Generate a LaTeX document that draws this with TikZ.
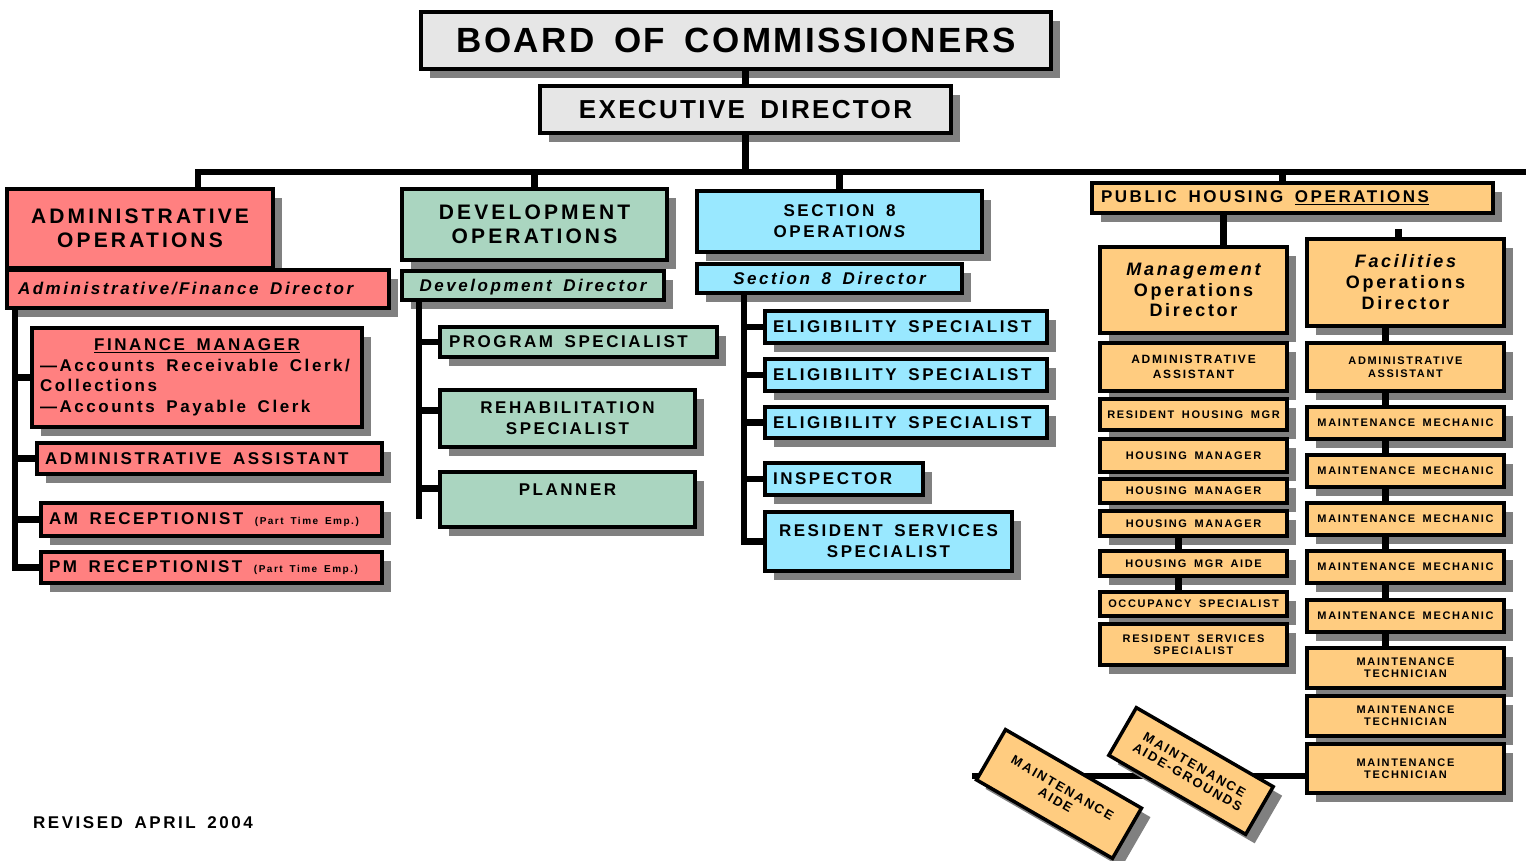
\documentclass[tikz,border=0pt]{standalone}
\usepackage{fontspec}
\newfontfamily\orgfont{Liberation Sans}[LetterSpace=15, WordSpace=1.6]
\usetikzlibrary{positioning, shadows}
\definecolor{boardgray}{HTML}{E6E6E6}
\definecolor{adminred}{HTML}{FF8080}
\definecolor{devgreen}{HTML}{AAD5C0}
\definecolor{seccyan}{HTML}{99E8FF}
\definecolor{phorange}{HTML}{FFCC80}
\definecolor{shadowgray}{HTML}{808080}
\tikzset{
    fs/.style 2 args={font=\orgfont\bfseries\fontsize{#1}{#2}\selectfont},
    block/.style={rectangle, draw, line width=3.5pt, inner sep=0pt, outer sep=0pt, anchor=north west, align=center,
        drop shadow={shadow xshift=9pt, shadow yshift=-9pt, fill=shadowgray, opacity=1}},
    topblock/.style={block, fill=boardgray},
    adminblock/.style={block, fill=adminred, fs={17}{20.5}},
    devblock/.style={block, fill=devgreen, fs={17}{21}},
    secblock/.style={block, fill=seccyan, fs={17}{21}},
    phblock/.style={block, fill=phorange, fs={11}{13}},
    leftblock/.style={align=flush left, text width=#1, inner xsep=8pt},
    line/.style={draw, line width=6.5pt},
}

\begin{document}
\begin{tikzpicture}[x=1pt, y=-1pt]

    \useasboundingbox (0,0) rectangle (1526,861);

    % Board and director
    \node[topblock, minimum width=630pt, minimum height=57pt, fs={35}{40}] (board) at (421,12) {\addfontfeature{LetterSpace=7}BOARD OF COMMISSIONERS};
    \node[topblock, minimum width=411pt, minimum height=47pt, fs={26}{30}] (exec) at (540,86) {\addfontfeature{LetterSpace=9}EXECUTIVE DIRECTOR};

    % Administrative operations
    \node[adminblock, minimum width=266pt, minimum height=79pt, fs={21}{24}] (adminops) at (7,189) {ADMINISTRATIVE\\OPERATIONS};
    \node[adminblock, leftblock=360pt, inner xsep=11pt, minimum height=38pt] (admindir) at (7,270) {\itshape Administrative/Finance Director};
    \node[adminblock, leftblock=314pt, minimum height=99pt] (finmgr) at (32,328) {\makebox[\linewidth]{\underline{FINANCE MANAGER}}\\—Accounts Receivable Clerk/\\Collections\\—Accounts Payable Clerk};
    \node[adminblock, leftblock=329pt, minimum height=31pt] (adminasst) at (37,443) {ADMINISTRATIVE ASSISTANT};
    \node[adminblock, leftblock=325pt, minimum height=33pt] (amrec) at (41,503) {AM RECEPTIONIST {\fontsize{10}{12}\selectfont(Part Time Emp.)}};
    \node[adminblock, leftblock=325pt, minimum height=31pt] (pmrec) at (41,552) {PM RECEPTIONIST {\fontsize{10}{12}\selectfont(Part Time Emp.)}};

    % Development operations
    \node[devblock, minimum width=265pt, minimum height=71pt, fs={21}{24}] (devops) at (402,189) {DEVELOPMENT\\OPERATIONS};
    \node[devblock, minimum width=262pt, minimum height=29pt, text height=14pt, text depth=3pt] (devdir) at (402,271) {\itshape Development Director};
    \node[devblock, leftblock=259pt, inner xsep=9pt, minimum height=30pt] (progspec) at (440,327) {PROGRAM SPECIALIST};
    \node[devblock, minimum width=255pt, minimum height=57pt] (rehab) at (440,390) {REHABILITATION\\SPECIALIST};
    \node[devblock, minimum width=255pt, text height=15pt, text depth=24pt, inner ysep=8pt] (planner) at (440,472) {PLANNER};

    % Section 8 operations
    \node[secblock, minimum width=285pt, minimum height=61pt] (secops) at (697,191) {SECTION 8\\OPERATIO{\itshape NS}};
    \node[secblock, minimum width=265pt, minimum height=29pt] (secdir) at (697,264) {\itshape Section 8 Director};
    \node[secblock, leftblock=266pt, minimum height=32pt] (elig1) at (765,311) {ELIGIBILITY SPECIALIST};
    \node[secblock, leftblock=266pt, minimum height=32pt] (elig2) at (765,359) {ELIGIBILITY SPECIALIST};
    \node[secblock, leftblock=266pt, minimum height=31pt] (elig3) at (765,407) {ELIGIBILITY SPECIALIST};
    \node[secblock, leftblock=142pt, minimum height=32pt] (inspector) at (765,463) {INSPECTOR};
    \node[secblock, minimum width=247pt, minimum height=59pt] (secres) at (765,512) {RESIDENT SERVICES\\SPECIALIST};

    % Public housing operations
    \node[phblock, leftblock=383pt, inner xsep=9pt, minimum height=30pt, fs={17}{20}] (phops) at (1092,183) {PUBLIC HOUSING \underline{OPERATIONS}};
    \node[phblock, line width=4.5pt, minimum width=187pt, minimum height=86pt, fs={18}{20.5}] (mgmtdir) at (1100,247) {\itshape Management\\Operations\\Director};
    \node[phblock, line width=4.5pt, minimum width=197pt, minimum height=87pt, fs={18}{21}] (facdir) at (1307,239) {\itshape Facilities\\Operations\\Director};

    % Management column
    \node[phblock, minimum width=187pt, minimum height=48pt, fs={12}{15}] (mgmtasst) at (1100,343) {ADMINISTRATIVE\\ASSISTANT};
    \node[phblock, minimum width=187pt, minimum height=31pt] (reshousing) at (1100,399) {RESIDENT HOUSING MGR};
    \node[phblock, minimum width=187pt, minimum height=33pt] (housing1) at (1100,439) {HOUSING MANAGER};
    \node[phblock, minimum width=187pt, minimum height=24pt] (housing2) at (1100,479) {HOUSING MANAGER};
    \node[phblock, minimum width=187pt, minimum height=25pt] (housing3) at (1100,511) {HOUSING MANAGER};
    \node[phblock, minimum width=187pt, minimum height=25pt] (mgraide) at (1100,551) {HOUSING MGR AIDE};
    \node[phblock, minimum width=187pt, minimum height=24pt] (occupancy) at (1100,592) {OCCUPANCY SPECIALIST};
    \node[phblock, minimum width=187pt, minimum height=41pt, fs={11}{12}] (mgmtres) at (1100,624) {RESIDENT SERVICES\\SPECIALIST};

    % Facilities column
    \node[phblock, minimum width=197pt, minimum height=48pt, fs={11}{12.5}] (facasst) at (1307,343) {ADMINISTRATIVE\\ASSISTANT};
    \node[phblock, minimum width=197pt, minimum height=32pt] (mech1) at (1307,407) {MAINTENANCE MECHANIC};
    \node[phblock, minimum width=197pt, minimum height=32pt] (mech2) at (1307,455) {MAINTENANCE MECHANIC};
    \node[phblock, minimum width=197pt, minimum height=32pt] (mech3) at (1307,503) {MAINTENANCE MECHANIC};
    \node[phblock, minimum width=197pt, minimum height=32pt] (mech4) at (1307,551) {MAINTENANCE MECHANIC};
    \node[phblock, minimum width=197pt, minimum height=32pt] (mech5) at (1307,600) {MAINTENANCE MECHANIC};
    \node[phblock, minimum width=197pt, minimum height=40pt, fs={11}{12}] (tech1) at (1307,648) {MAINTENANCE\\TECHNICIAN};
    \node[phblock, minimum width=197pt, minimum height=40pt, fs={11}{12}] (tech2) at (1307,696) {MAINTENANCE\\TECHNICIAN};
    \node[phblock, minimum width=197pt, minimum height=49pt, fs={11}{12}] (tech3) at (1307,744) {MAINTENANCE\\TECHNICIAN};

    \node[fs={17}{20}] (revised) at (143,823) {REVISED APRIL 2004};

    % Main bus
    \coordinate (busleft) at (198,172);
    \coordinate (busright) at (1526,172);
    \draw[line] (exec.north) -- (exec.north |- board.south);
    \draw[line] (exec.south) -- (exec.south |- busright);
    \draw[line] (adminops.north -| busleft) |- (busright);
    \draw[line] (devops.north) -- (devops.north |- busright);
    \draw[line] (secops.north) -- (secops.north |- busright);
    \draw[line] ([xshift=-10pt]phops.north) -- ([xshift=-10pt]phops.north |- busright);

    % Administrative spine
    \coordinate (adminspine) at ([xshift=8pt]admindir.south west);
    \draw[line] (adminspine) |- (pmrec.west);
    \draw[line] (finmgr.west) -- (finmgr.west -| adminspine);
    \draw[line] (adminasst.west) -- (adminasst.west -| adminspine);
    \draw[line] (amrec.west) -- (amrec.west -| adminspine);

    % Development spine
    \coordinate (devspine) at ([xshift=17pt]devdir.south west);
    \draw[line] (devspine) -- ([yshift=8pt]planner.south -| devspine);
    \draw[line] (progspec.west) -- (progspec.west -| devspine);
    \draw[line] ([yshift=8pt]rehab.west) -- ([yshift=8pt]rehab.west -| devspine);
    \draw[line] ([yshift=11pt]planner.west) -- ([yshift=11pt]planner.west -| devspine);

    % Section 8 spine
    \coordinate (secspine) at ([xshift=47pt]secdir.south west);
    \draw[line] (secspine) |- (secres.west);
    \draw[line] (elig1.west) -- (elig1.west -| secspine);
    \draw[line] (elig2.west) -- (elig2.west -| secspine);
    \draw[line] (elig3.west) -- (elig3.west -| secspine);
    \draw[line] (inspector.west) -- (inspector.west -| secspine);

    % Public housing links
    \draw[line] ([xshift=30pt]mgmtdir.north) -- ([xshift=30pt]mgmtdir.north |- phops.south);
    \coordinate (facstub) at ([xshift=-7pt, yshift=10pt]facdir.north);
    \draw[line] (facstub) -- (facstub |- facdir.north);
    \draw[line] ([xshift=-15pt]housing3.south) -- ([xshift=-15pt]mgraide.north);
    \draw[line] ([xshift=-15pt]mgraide.south) -- ([xshift=-15pt]occupancy.north);
    \draw[line] ([xshift=-20pt]facdir.south) -- ([xshift=-20pt]facasst.north);
    \draw[line] ([xshift=-20pt]facasst.south) -- ([xshift=-20pt]mech1.north);
    \draw[line] ([xshift=-20pt]mech1.south) -- ([xshift=-20pt]mech2.north);
    \draw[line] ([xshift=-20pt]mech2.south) -- ([xshift=-20pt]mech3.north);
    \draw[line] ([xshift=-20pt]mech3.south) -- ([xshift=-20pt]mech4.north);
    \draw[line] ([xshift=-20pt]mech4.south) -- ([xshift=-20pt]mech5.north);
    \draw[line] ([xshift=-20pt]mech5.south) -- ([xshift=-20pt]tech1.north);

    % Maintenance aides
    \coordinate (aideline) at (972,776);
    \draw[line] (aideline) -- (aideline -| tech3.west);
    \node[phblock, anchor=center, rotate=-30, minimum width=157pt, minimum height=58pt, fs={13}{14}] (aide) at (1059,794) {MAINTENANCE\\AIDE};
    \node[phblock, anchor=center, rotate=-30, minimum width=158pt, minimum height=55pt, fs={13}{14}] (grounds) at (1191,771) {MAINTENANCE\\AIDE-GROUNDS};

\end{tikzpicture}
\end{document}
